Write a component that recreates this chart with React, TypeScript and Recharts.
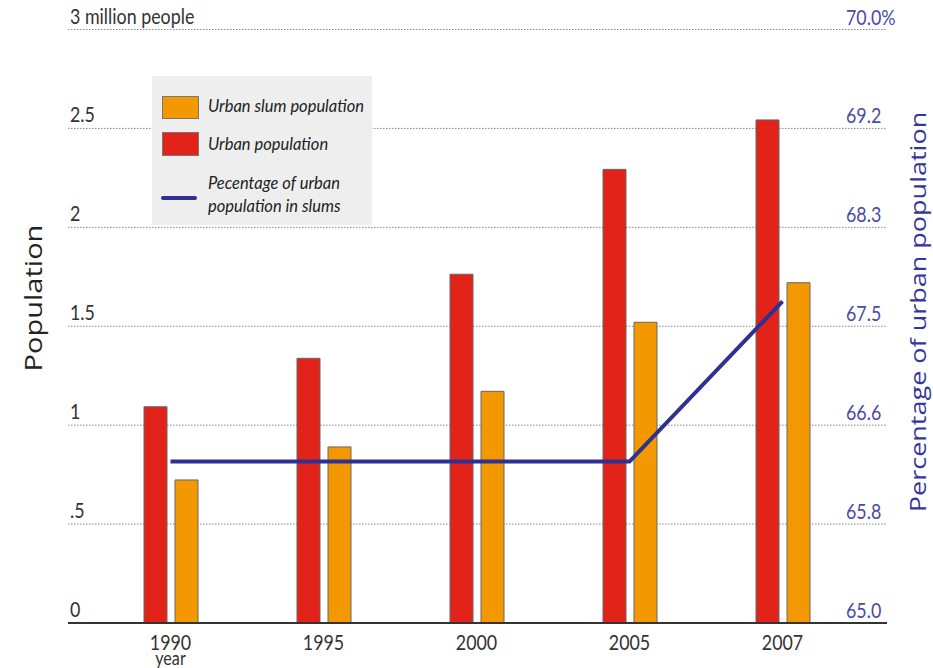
import React from 'react';
import { ComposedChart, Bar, Line, XAxis, YAxis, CartesianGrid } from 'recharts';

const years = ['1990', '1995', '2000', '2005', '2007'];
const urbanPopulation = [1.093, 1.338, 1.763, 2.293, 2.543];
const slumPopulation = [0.723, 0.89, 1.171, 1.52, 1.72];
const slumShare = [66.36, 66.36, 66.36, 66.36, 67.71];

const popTicks = [0, 0.5, 1, 1.5, 2, 2.5, 3];
const popTickLabels = ['0', '.5', '1', '1.5', '2', '2.5', '3 million people'];
const pctTicks = [65, 65 + 5 / 6, 65 + 10 / 6, 67.5, 65 + 20 / 6, 65 + 25 / 6, 70];
const pctTickLabels = ['65.0', '65.8', '66.6', '67.5', '68.3', '69.2', '70.0%'];

const data = years.map((year, i) => ({
  year,
  urban: urbanPopulation[i],
  slum: slumPopulation[i],
  share: slumShare[i],
}));

const W = 933;
const H = 668;
const PLOT_LEFT = 68;
const PLOT_RIGHT = 887;

const RED = '#e2231a';
const ORANGE = '#f39800';
const NAVY = '#2e3192';
const TICK_FONT = 'Lato, "Open Sans", sans-serif';
// the lettering is a narrow humanist face, so tick text is squeezed horizontally
const SQUEEZE = 0.85;

// tick label text is looked up by value so the custom ticks don't depend on index props
const labelFor = (ticks: number[], labels: string[], v: number) => {
  const i = ticks.findIndex((t) => Math.abs(t - v) < 1e-6);
  return i >= 0 ? labels[i] : String(v);
};

const NarrowText = ({ x, y, anchor, fill, size, children }: any) => (
  <g transform={`translate(${x},${y}) scale(${SQUEEZE},1)`}>
    <text x={0} y={0} fill={fill} fontSize={size} fontFamily={TICK_FONT} textAnchor={anchor}>
      {children}
    </text>
  </g>
);

const LeftTick = (props: any) => {
  const { y, payload } = props;
  return (
    <NarrowText x={PLOT_LEFT + 2} y={y - 6} anchor="start" fill="#333" size={21}>
      {labelFor(popTicks, popTickLabels, payload.value)}
    </NarrowText>
  );
};

const RightTick = (props: any) => {
  const { y, payload } = props;
  return (
    <NarrowText x={PLOT_RIGHT - 41} y={y - 5} anchor="start" fill="#4b4ba6" size={21}>
      {labelFor(pctTicks, pctTickLabels, payload.value)}
    </NarrowText>
  );
};

const YearTick = (props: any) => {
  const { x, y, payload } = props;
  return (
    <g>
      <NarrowText x={x} y={y + 19} anchor="middle" fill="#333" size={21}>
        {payload.value}
      </NarrowText>
      {payload.value === years[0] && (
        <NarrowText x={x} y={y + 34} anchor="middle" fill="#333" size={19}>
          year
        </NarrowText>
      )}
    </g>
  );
};

const legendText: React.CSSProperties = {
  position: 'absolute',
  left: 56,
  fontFamily: TICK_FONT,
  fontStyle: 'italic',
  fontSize: 16.5,
  color: '#222',
  lineHeight: '23px',
  whiteSpace: 'nowrap',
};

const ChartLegend = () => (
  <div style={{ position: 'absolute', left: 152, top: 76, width: 220, height: 149, background: '#eeeeee' }}>
    <div style={{ position: 'absolute', left: 10, top: 20, width: 35, height: 21, background: ORANGE, border: '1px solid #777' }} />
    <div style={{ ...legendText, top: 19 }}>Urban slum population</div>
    <div style={{ position: 'absolute', left: 10, top: 56, width: 35, height: 22, background: RED, border: '1px solid #777' }} />
    <div style={{ ...legendText, top: 57 }}>Urban population</div>
    <div style={{ position: 'absolute', left: 9, top: 120, width: 36, height: 4, borderRadius: 2, background: NAVY }} />
    <div style={{ ...legendText, top: 96 }}>
      Pecentage of urban
      <br />
      population in slums
    </div>
  </div>
);

const axisTitle = (left: number, top: number, size: number, color: string): React.CSSProperties => ({
  position: 'absolute',
  left,
  top,
  transform: 'translate(-50%, -50%) scaleX(0.8) rotate(-90deg)',
  fontFamily: '"Open Sans", sans-serif',
  fontSize: size,
  lineHeight: `${size}px`,
  color,
  whiteSpace: 'nowrap',
});

export default function App() {
  return (
    <div style={{ position: 'absolute', left: 0, top: 0, width: W, height: H, background: '#fff', overflow: 'hidden' }}>
      <ComposedChart
        width={W}
        height={H}
        data={data}
        margin={{ top: 29.5, right: W - PLOT_RIGHT - 1, bottom: 0, left: PLOT_LEFT - 1 }}
        barSize={23}
        barGap={8}
      >
        <CartesianGrid yAxisId="pop" vertical={false} stroke="#888" strokeDasharray="1.5 1.5" />
        <XAxis
          dataKey="year"
          height={45}
          padding={{ left: 26, right: 28 }}
          axisLine={{ stroke: '#333', strokeWidth: 2 }}
          tickLine={false}
          tick={<YearTick />}
        />
        <YAxis
          yAxisId="pop"
          width={1}
          domain={[0, 3]}
          ticks={popTicks}
          interval={0}
          axisLine={false}
          tickLine={false}
          tick={<LeftTick />}
        />
        <YAxis
          yAxisId="pct"
          orientation="right"
          width={1}
          domain={[65, 70]}
          ticks={pctTicks}
          interval={0}
          axisLine={false}
          tickLine={false}
          tick={<RightTick />}
        />
        <Bar yAxisId="pop" dataKey="urban" name="Urban population" fill={RED} stroke="#666" strokeWidth={1} isAnimationActive={false} />
        <Bar yAxisId="pop" dataKey="slum" name="Urban slum population" fill={ORANGE} stroke="#666" strokeWidth={1} isAnimationActive={false} />
        <Line
          yAxisId="pct"
          type="linear"
          dataKey="share"
          name="Pecentage of urban population in slums"
          stroke={NAVY}
          strokeWidth={4}
          dot={false}
          activeDot={false}
          isAnimationActive={false}
        />
      </ComposedChart>
      <ChartLegend />
      <div style={axisTitle(33, 298, 29, '#222')}>Population</div>
      <div style={axisTitle(918, 312, 27, '#3535a0')}>Percentage of urban population</div>
    </div>
  );
}
